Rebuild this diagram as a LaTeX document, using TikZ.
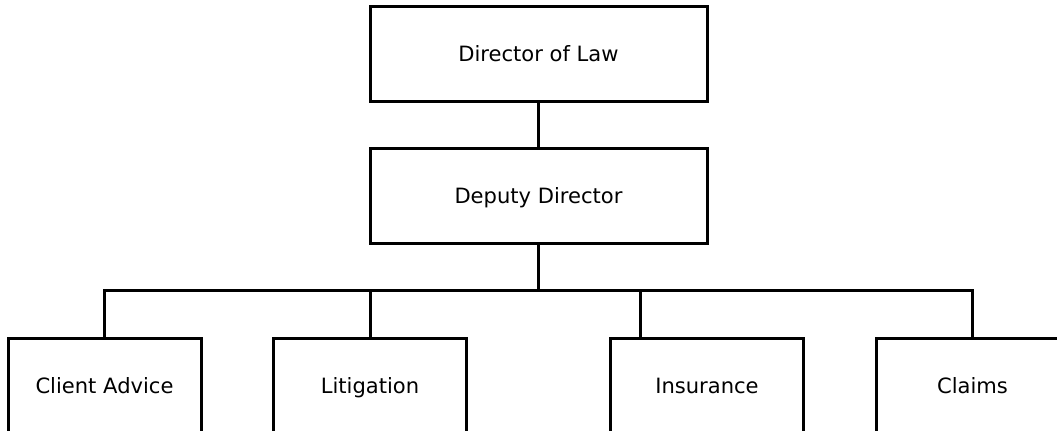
\documentclass[tikz,border=0pt]{standalone}
\usepackage{fontspec}
\setmainfont{DejaVu Sans}
\usetikzlibrary{calc}
\begin{document}
\begin{tikzpicture}[x=0.75pt,y=-0.75pt,
  line width=2.25pt,
  orgbox/.style={draw=black, rectangle, minimum width=144.75pt, minimum height=71.25pt,
    inner sep=0pt, outer sep=0pt, text height=11.5pt, text depth=0pt,
    font=\fontsize{15.8}{18}\selectfont},
  topbox/.style={orgbox, minimum width=252.75pt},
  link/.style={draw=black, line width=2.25pt}]
\useasboundingbox (0,0) rectangle (1057,430);
\clip (0,0) rectangle (1057,430);
\node[topbox] (dl) at (538.5,53.5) {Director of Law};
\node[topbox] (dd) at (538.5,195.5) {Deputy Director};
\node[orgbox] (ca) at (104.5,385.5) {Client Advice};
\node[orgbox] (li) at (370,385.5) {Litigation};
\node[orgbox] (in) at (707,385.5) {Insurance};
\node[orgbox] (cl) at (972.5,385.5) {Claims};
\coordinate (bar) at (538.5,290);
\coordinate (inTop) at (640,338);
\draw[link] (dl.south) -- (dd.north);
\draw[link] (dd.south) -- (bar);
\draw[link] (bar) -| (ca.north);
\draw[link] (bar) -| (li.north);
\draw[link] (bar) -| (inTop);
\draw[link] (bar) -| (cl.north);
\end{tikzpicture}
\end{document}
